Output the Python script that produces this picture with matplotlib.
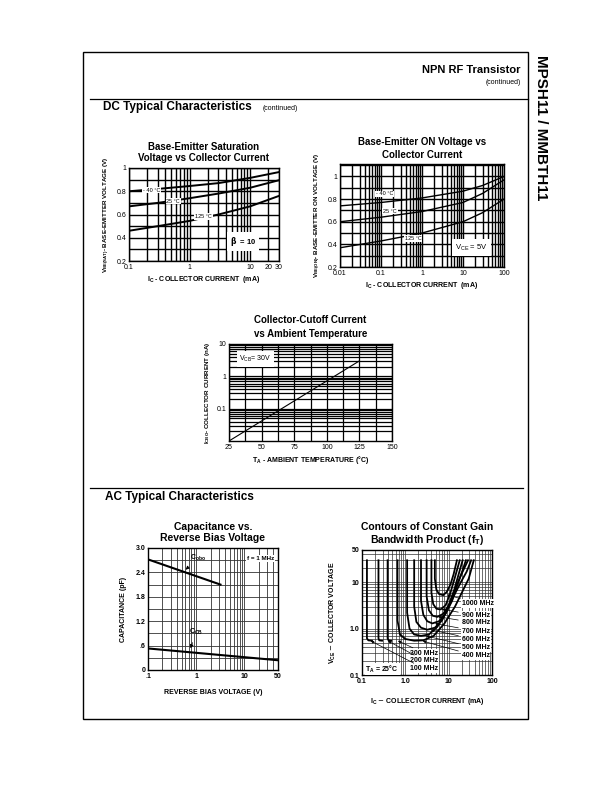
import numpy as np
import matplotlib.pyplot as plt
from matplotlib.ticker import LogLocator, NullFormatter, FixedLocator, FixedFormatter

plt.rcParams['font.family'] = ['Liberation Sans', 'DejaVu Sans']
NARROW = ['Liberation Sans Narrow', 'Liberation Sans', 'DejaVu Sans']

W, H = 612, 792

# ---------------- data ----------------
# Base-emitter saturation voltage vs Ic (beta = 10)
vsat_ic = [0.1, 0.3, 1, 3, 10, 30]
vsat_m40 = [0.80, 0.82, 0.845, 0.87, 0.915, 0.965]
vsat_25 = [0.67, 0.70, 0.74, 0.78, 0.83, 0.895]
vsat_125 = [0.46, 0.50, 0.545, 0.60, 0.67, 0.76]

# Base-emitter ON voltage vs Ic (Vce = 5V)
von_ic = [0.01, 0.1, 1, 10, 30, 100]
von_m40 = [0.74, 0.77, 0.81, 0.87, 0.92, 1.00]
von_25 = [0.60, 0.64, 0.69, 0.77, 0.85, 0.97]
von_125 = [0.37, 0.43, 0.50, 0.60, 0.68, 0.80]

# Collector cutoff current vs temperature
icbo_t = [25, 125]
icbo_na = [0.01, 3.0]

# Capacitance vs reverse bias
cobo_v = [0.1, 3.2]
cobo_pf = [2.72, 2.1]
ccb_v = [0.1, 50]
ccb_pf = [0.53, 0.24]

# Contours of constant fT: (Ic mA, Vce V)
ft_contours = {
    100: ([0.13, 0.13, 0.14, 0.17], [30, 0.62, 0.56, 0.55]),
    200: ([0.24, 0.24, 0.25, 0.29], [30, 0.62, 0.56, 0.55]),
    300: ([0.39, 0.39, 0.41, 0.47], [30, 0.62, 0.56, 0.55]),
    400: ([0.66, 0.66, 0.75, 1.0, 1.6, 2.6, 4.5, 8, 14, 21, 29, 38],
          [30, 1.5, 0.75, 0.6, 0.55, 0.56, 0.7, 1.3, 3, 6.5, 12, 30]),
    500: ([1.1, 1.1, 1.25, 1.6, 2.3, 3.5, 5.5, 8.5, 13, 19, 26, 33],
          [30, 2.2, 1.0, 0.75, 0.7, 0.75, 1.1, 2.2, 5, 10, 17, 30]),
    600: ([1.6, 1.6, 1.8, 2.3, 3.2, 4.8, 7, 10, 14, 19, 28],
          [30, 3.0, 1.4, 1.05, 0.95, 1.05, 1.5, 3.0, 7, 14, 30]),
    700: ([2.3, 2.3, 2.6, 3.2, 4.2, 6, 8.5, 12, 16, 20, 25],
          [30, 4.0, 2.0, 1.45, 1.3, 1.45, 2.1, 4.0, 9, 16, 30]),
    800: ([3.1, 3.1, 3.5, 4.3, 5.5, 7.5, 10, 13.5, 17, 21],
          [30, 5.0, 2.5, 1.9, 1.8, 2.1, 3.2, 7, 15, 30]),
    900: ([4.0, 4.0, 4.4, 5.2, 6.5, 8.5, 11, 14, 18],
          [30, 6.0, 3.4, 2.7, 2.6, 3.2, 6, 13, 30]),
    1000: ([4.8, 4.8, 5.2, 6.0, 7.5, 9, 11, 13, 15.5],
           [30, 12, 7.0, 5.6, 5.3, 6.2, 9, 15, 30]),
}
# label position (Vce) and leader target (Ic, Vce)
ft_right_labels = [1000, 900, 800, 700, 600, 500, 400]
ft_right_label_v = [3.5, 1.95, 1.33, 0.89, 0.586, 0.386, 0.259]
ft_right_target_ic = [8.0, 6.0, 5.0, 4.2, 3.4, 2.6, 2.2]
ft_right_target_v = [5.6, 2.7, 1.85, 1.32, 0.97, 0.72, 0.56]
ft_left_labels = [300, 200, 100]
ft_left_label_v = [0.296, 0.205, 0.137]
ft_left_target_ic = [0.59, 0.35, 0.14]
ft_left_target_v = [0.58, 0.58, 0.58]


def axes_px(fig, x0, y0, x1, y1):
    return fig.add_axes([x0 / W, 1 - y1 / H, (x1 - x0) / W, (y1 - y0) / H])


def ftext(fig, x, y, s, **kw):
    fig.text(x / W, 1 - y / H, s, **kw)


def heavy_grid(ax, lw=1.0, color='black'):
    ax.grid(True, which='both', color=color, linewidth=lw)
    ax.set_axisbelow(True)
    ax.tick_params(which='both', length=0, labelsize=5, pad=2)
    for s in ax.spines.values():
        s.set_linewidth(1.0)


fig = plt.figure(figsize=(W / 100, H / 100), dpi=100)

# page frame and rules
fig.add_artist(plt.Rectangle((83 / W, 1 - 719 / H), (528 - 83) / W, (719 - 52) / H,
                             transform=fig.transFigure, fill=False, lw=1.0, color='black'))
fig.add_artist(plt.Line2D([90 / W, 528 / W], [1 - 99 / H] * 2, transform=fig.transFigure,
                          lw=0.9, color='black'))
fig.add_artist(plt.Line2D([90 / W, 523 / W], [1 - 488 / H] * 2, transform=fig.transFigure,
                          lw=0.9, color='black'))

ftext(fig, 521, 70, 'NPN RF Transistor', ha='right', va='center', fontsize=8, fontweight='bold')
ftext(fig, 521, 82, '(continued)', ha='right', va='center', fontsize=5)
ftext(fig, 103, 107, 'DC Typical Characteristics', ha='left', va='center', fontsize=8.5,
      fontweight='bold')
ftext(fig, 263, 108, '(continued)', ha='left', va='center', fontsize=5)
ftext(fig, 105, 497, 'AC Typical Characteristics', ha='left', va='center', fontsize=8.5,
      fontweight='bold')
ftext(fig, 541, 55, 'MPSH11 / MMBTH11', ha='center', va='top', rotation=-90, fontsize=11,
      fontweight='bold')

label_box = dict(boxstyle='square,pad=0.15', fc='white', ec='none')

# ---------- chart 1: VBE(sat) ----------
ax1 = axes_px(fig, 129, 168, 279, 261)
ax1.set_xscale('log')
ax1.set_xlim(0.1, 30)
ax1.set_ylim(0.2, 1.0)
ax1.xaxis.set_major_locator(FixedLocator([0.1, 1, 10, 20, 30]))
ax1.xaxis.set_major_formatter(FixedFormatter(['0.1', '1', '10', '20', '30']))
ax1.xaxis.set_minor_locator(LogLocator(subs=np.arange(2, 10)))
ax1.xaxis.set_minor_formatter(NullFormatter())
ax1.set_yticks(np.arange(0.2, 1.01, 0.1), minor=True)
ax1.set_yticks([0.2, 0.4, 0.6, 0.8, 1.0])
ax1.set_yticklabels(['0.2', '0.4', '0.6', '0.8', '1'])
heavy_grid(ax1)
for ys in (vsat_m40, vsat_25, vsat_125):
    ax1.plot(vsat_ic, ys, color='black', lw=1.4)
ax1.text(0.234, 0.81, '- 40 °C', fontsize=4, ha='center', va='center', bbox=label_box)
ax1.text(0.536, 0.715, '25 °C', fontsize=4, ha='center', va='center', bbox=label_box)
ax1.text(1.69, 0.585, '125 °C', fontsize=4, ha='center', va='center', bbox=label_box)
ax1.text(7.7, 0.37, r'$\mathbf{\beta}$  = 10', fontsize=5.5, fontweight='bold', ha='center',
         va='center', bbox=dict(boxstyle='square,pad=0.4', fc='white', ec='none'))
ax1.set_title('Base-Emitter Saturation\nVoltage vs Collector Current', fontsize=7,
              fontweight='bold', pad=5, linespacing=1.15)
ax1.set_xlabel(r'I$_\mathregular{C}$ - COLLECTOR CURRENT  (mA)', fontsize=5, fontweight='bold',
               labelpad=2)
ax1.set_ylabel(r'V$_\mathregular{BE(SAT)}$- BASE-EMITTER VOLTAGE (V)', fontsize=4.5,
               fontweight='bold', labelpad=3)

# ---------- chart 2: VBE(on) ----------
ax2 = axes_px(fig, 340, 164, 504, 267)
ax2.set_xscale('log')
ax2.set_xlim(0.01, 100)
ax2.set_ylim(0.2, 1.11)
ax2.xaxis.set_major_locator(FixedLocator([0.01, 0.1, 1, 10, 100]))
ax2.xaxis.set_major_formatter(FixedFormatter(['0.01', '0.1', '1', '10', '100']))
ax2.xaxis.set_minor_locator(LogLocator(subs=np.arange(2, 10)))
ax2.xaxis.set_minor_formatter(NullFormatter())
ax2.set_yticks(np.arange(0.2, 1.11, 0.1), minor=True)
ax2.set_yticks([0.2, 0.4, 0.6, 0.8, 1.0])
ax2.set_yticklabels(['0.2', '0.4', '0.6', '0.8', '1'])
heavy_grid(ax2)
for ys in (von_m40, von_25, von_125):
    ax2.plot(von_ic, ys, color='black', lw=1.0)
ax2.text(0.125, 0.845, '- 40 °C', fontsize=4, ha='center', va='center', bbox=label_box)
ax2.text(0.166, 0.694, '25 °C', fontsize=4, ha='center', va='center', bbox=label_box)
ax2.text(0.61, 0.45, '125 °C', fontsize=4, ha='center', va='center', bbox=label_box)
ax2.text(16, 0.37, r'V$_\mathregular{CE}$ = 5V', fontsize=5.5, ha='center', va='center',
         bbox=dict(boxstyle='square,pad=0.4', fc='white', ec='none'))
ax2.set_title('Base-Emitter ON Voltage vs\nCollector Current', fontsize=7,
              fontweight='bold', pad=4, linespacing=1.4)
ax2.set_xlabel(r'I$_\mathregular{C}$ - COLLECTOR CURRENT  (mA)', fontsize=5, fontweight='bold',
               labelpad=2)
ax2.set_ylabel(r'V$_\mathregular{BE(ON)}$- BASE-EMITTER ON VOLTAGE (V)', fontsize=4.5,
               fontweight='bold', labelpad=3)

# ---------- chart 3: ICBO ----------
ax3 = axes_px(fig, 229, 344, 392, 441)
ax3.set_yscale('log')
ax3.set_xlim(25, 150)
ax3.set_ylim(0.01, 10)
ax3.set_xticks([25, 50, 75, 100, 125, 150])
ax3.set_xticks(np.arange(25, 151, 12.5), minor=True)
ax3.yaxis.set_major_locator(FixedLocator([0.1, 1, 10]))
ax3.yaxis.set_major_formatter(FixedFormatter(['0.1', '1', '10']))
ax3.yaxis.set_minor_locator(LogLocator(subs=np.arange(2, 10)))
ax3.yaxis.set_minor_formatter(NullFormatter())
heavy_grid(ax3, lw=0.9)
ax3.plot(icbo_t, icbo_na, color='black', lw=0.8)
ax3.text(33, 3.5, r'V$_\mathregular{CB}$= 30V', fontsize=5, ha='left', va='center',
         bbox=dict(boxstyle='square,pad=0.4', fc='white', ec='none'))
ax3.set_title('Collector-Cutoff Current\nvs Ambient Temperature', fontsize=7,
              fontweight='bold', pad=5, linespacing=1.5)
ax3.set_xlabel(r'T$_\mathregular{A}$ - AMBIENT TEMPERATURE (°C)', fontsize=5, fontweight='bold',
               labelpad=2)
ax3.set_ylabel(r'I$_\mathregular{CBO}$- COLLECTOR CURRENT (nA)', fontsize=4.5,
               fontweight='bold', labelpad=3)

# ---------- chart 4: capacitance ----------
ax4 = axes_px(fig, 148, 548, 278, 670)
ax4.set_xscale('log')
ax4.set_xlim(0.1, 50)
ax4.set_ylim(0, 3.0)
ax4.xaxis.set_major_locator(FixedLocator([0.1, 1, 10, 50]))
ax4.xaxis.set_major_formatter(FixedFormatter(['.1', '1', '10', '50']))
ax4.xaxis.set_minor_locator(LogLocator(subs=np.arange(2, 10)))
ax4.xaxis.set_minor_formatter(NullFormatter())
ax4.set_yticks([0, 0.6, 1.2, 1.8, 2.4, 3.0])
ax4.set_yticklabels(['0', '.6', '1.2', '1.8', '2.4', '3.0'])
ax4.set_yticks(np.arange(0, 3.01, 0.3), minor=True)
heavy_grid(ax4, lw=0.6, color='#333333')
for lab in ax4.get_xticklabels() + ax4.get_yticklabels():
    lab.set_family(NARROW)
    lab.set_fontweight('bold')
ax4.plot(cobo_v, cobo_pf, color='black', lw=1.5)
ax4.plot(ccb_v, ccb_pf, color='black', lw=1.5)
arrow = dict(arrowstyle='-|>', color='black', lw=0.6, mutation_scale=5)
ax4.annotate(r'C$_\mathregular{obo}$', xy=(0.55, 2.42), xytext=(1.09, 2.75), fontsize=5,
             family=NARROW, fontweight='bold', ha='center', va='center', arrowprops=arrow)
ax4.annotate(r'C$_\mathregular{CB}$', xy=(0.73, 0.47), xytext=(1.0, 0.93), fontsize=5,
             family=NARROW, fontweight='bold', ha='center', va='center', arrowprops=arrow)
ax4.text(42, 2.75, 'f = 1 MHz', fontsize=4.5, family=NARROW, fontweight='bold', ha='right',
         va='center', bbox=label_box)
ax4.set_title('Capacitance vs.\nReverse Bias Voltage', fontsize=7.5, fontweight='bold',
              pad=5, linespacing=1.15)
ax4.set_xlabel('REVERSE BIAS VOLTAGE (V)', fontsize=5, fontweight='bold', family=NARROW,
               labelpad=7)
ax4.set_ylabel('CAPACITANCE (pF)', fontsize=5, fontweight='bold', family=NARROW, labelpad=6)

# ---------- chart 5: fT contours ----------
ax5 = axes_px(fig, 362, 550, 492, 675)
ax5.set_xscale('log')
ax5.set_yscale('log')
ax5.set_xlim(0.1, 100)
ax5.set_ylim(0.1, 50)
ax5.xaxis.set_major_locator(FixedLocator([0.1, 1, 10, 100]))
ax5.xaxis.set_major_formatter(FixedFormatter(['0.1', '1.0', '10', '100']))
ax5.yaxis.set_major_locator(FixedLocator([0.1, 1, 10, 50]))
ax5.yaxis.set_major_formatter(FixedFormatter(['0.1', '1.0', '10', '50']))
for axis in (ax5.xaxis, ax5.yaxis):
    axis.set_minor_locator(LogLocator(subs=np.arange(2, 10)))
    axis.set_minor_formatter(NullFormatter())
heavy_grid(ax5, lw=0.5, color='#333333')
for lab in ax5.get_xticklabels() + ax5.get_yticklabels():
    lab.set_family(NARROW)
    lab.set_fontweight('bold')
for f, (ic, vce) in ft_contours.items():
    ax5.plot(ic, vce, color='black', lw=1.3)
small_box = dict(boxstyle='square,pad=0.1', fc='white', ec='none')
arrow5 = dict(arrowstyle='-|>', color='black', lw=0.5, mutation_scale=4)
for f, v, tx, ty in zip(ft_right_labels, ft_right_label_v, ft_right_target_ic, ft_right_target_v):
    ax5.annotate(f'{f} MHz', xy=(tx, ty), xytext=(20, v), fontsize=5, family=NARROW,
                 fontweight='bold', ha='left', va='center', bbox=small_box, arrowprops=arrow5)
for f, v, tx, ty in zip(ft_left_labels, ft_left_label_v, ft_left_target_ic, ft_left_target_v):
    ax5.annotate(f'{f} MHz', xy=(tx, ty), xytext=(1.3, v), fontsize=5, family=NARROW,
                 fontweight='bold', ha='left', va='center', bbox=small_box, arrowprops=arrow5)
ax5.text(0.12, 0.135, r'T$_\mathregular{A}$ = 25°C', fontsize=5, family=NARROW, fontweight='bold',
         ha='left', va='center', bbox=small_box)
ax5.set_title('Contours of Constant Gain\nBandwidth Product (f$_\mathregular{T}$)', fontsize=7.5,
              fontweight='bold', pad=5, linespacing=1.15)
ax5.set_xlabel(r'I$_\mathregular{C}$ $-$ COLLECTOR CURRENT (mA)', fontsize=5, fontweight='bold',
               family=NARROW, labelpad=8)
ax5.set_ylabel(r'V$_\mathregular{CE}$ $-$ COLLECTOR VOLTAGE', fontsize=5, fontweight='bold',
               family=NARROW, labelpad=8)

fig.savefig('out.png', dpi=100)
